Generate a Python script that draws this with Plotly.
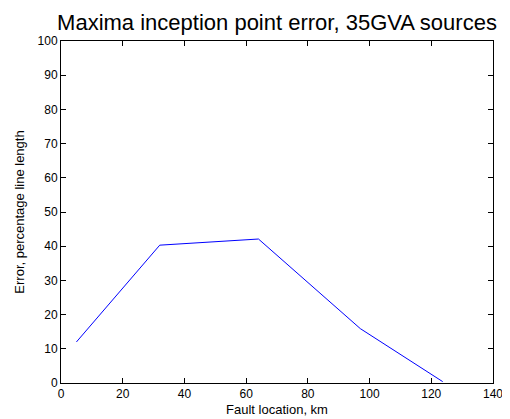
import plotly.graph_objects as go

fault_km = [5, 32, 64, 97, 123.7]
error_pct = [12.0, 40.3, 42.1, 15.9, 0.4]
x_ticks = [0, 20, 40, 60, 80, 100, 120, 140]
y_ticks = [0, 10, 20, 30, 40, 50, 60, 70, 80, 90, 100]

fig = go.Figure()
fig.add_trace(go.Scatter(x=fault_km, y=error_pct, mode="lines",
                         line=dict(color="#0000ff", width=1)))

axis_common = dict(showline=True, linecolor="black", linewidth=1, mirror="ticks",
                   ticks="inside", ticklen=5, tickcolor="black", showgrid=False,
                   zeroline=False, tickfont=dict(family="Liberation Sans", size=12, color="black"))

# body margin of the page is 8px; compensate
fig.update_layout(
    width=502, height=411,
    margin=dict(l=53, r=17, t=33, b=36, autoexpand=False),
    paper_bgcolor="white", plot_bgcolor="white",
    showlegend=False,
    title=dict(text="Maxima inception point error, 35GVA sources",
               x=(277 - 8) / 502, xanchor="center", y=1 - (22 - 8) / 411, yanchor="middle",
               font=dict(family="Liberation Sans", size=22, color="black")),
    xaxis=dict(range=[0, 140], tickvals=x_ticks,
               title=dict(text="Fault location, km", standoff=4,
                          font=dict(family="Liberation Sans", size=13, color="black")),
               **axis_common),
    yaxis=dict(range=[0, 100], tickvals=y_ticks,
               title=dict(text="Error, percentage line length", standoff=10,
                          font=dict(family="Liberation Sans", size=13, color="black")),
               **axis_common),
)

fig.write_html("out.html")
